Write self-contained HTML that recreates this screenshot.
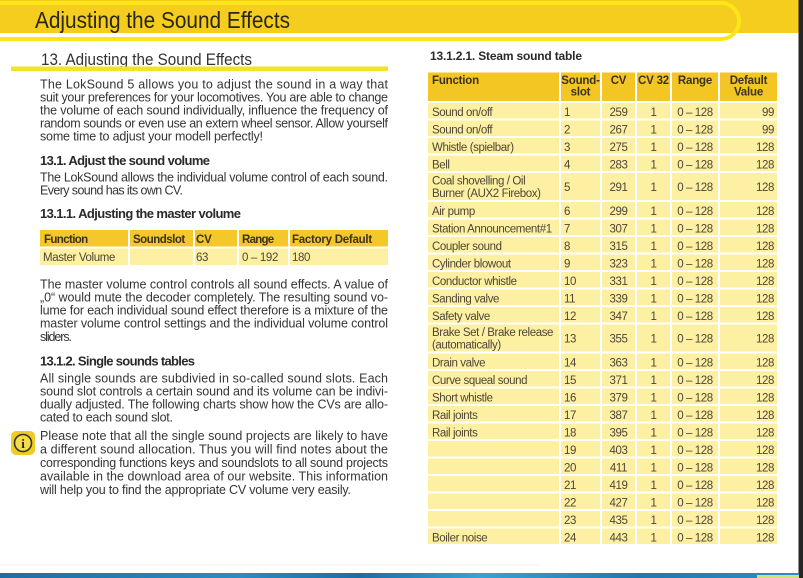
<!DOCTYPE html>
<html><head><meta charset="utf-8">
<style>
html,body{margin:0;padding:0;background:#fff;width:803px;height:578px;overflow:hidden}
svg{display:block}
.t{font-family:"Liberation Sans",sans-serif;font-size:12.5px;fill:#353535}
.h{font-family:"Liberation Sans",sans-serif;font-size:13px;font-weight:bold;fill:#2a2a2a}
.th{font-family:"Liberation Sans",sans-serif;font-size:11.5px;font-weight:bold;fill:#3a3222;letter-spacing:-0.2px}
.td{font-family:"Liberation Sans",sans-serif;font-size:11.5px;fill:#4e4636;letter-spacing:-0.4px}
.c{text-anchor:middle}
.e{text-anchor:end}
</style></head><body>
<svg width="803" height="578" viewBox="0 0 803 578" xmlns="http://www.w3.org/2000/svg">
<defs>
<linearGradient id="bl" x1="0" x2="1" y1="0" y2="0">
<stop offset="0" stop-color="#1d6ea6"/><stop offset="0.3" stop-color="#2a8cc4"/><stop offset="0.45" stop-color="#1a6ea8"/><stop offset="0.6" stop-color="#35a3d6"/><stop offset="0.8" stop-color="#1f78b2"/><stop offset="1" stop-color="#2a8fc6"/>
</linearGradient>
</defs>
<!-- top band -->
<rect x="0" y="0" width="799" height="33" fill="#f4cd1f"/>
<rect x="-30" y="3" width="769" height="36" rx="18" ry="18" fill="none" stroke="#fde617" stroke-width="4"/>
<text x="35" y="28" font-family="Liberation Sans, sans-serif" font-size="23" fill="#2a2614" textLength="255" lengthAdjust="spacingAndGlyphs">Adjusting the Sound Effects</text>
<!-- right dark strip -->
<rect x="798.5" y="0" width="4.5" height="578" fill="#262626"/>
<!-- section heading -->
<text x="41" y="65" font-family="Liberation Sans, sans-serif" font-size="17" fill="#333" textLength="211" lengthAdjust="spacingAndGlyphs">13. Adjusting the Sound Effects</text>
<rect x="11" y="66.5" width="377" height="4.5" fill="#f4e31f"/>

<!-- paragraph 1 -->
<text class="t" x="40" y="88.5" textLength="348">The LokSound 5 allows you to adjust the sound in a way that</text>
<text class="t" x="40" y="101.5" textLength="348">suit your preferences for your locomotives. You are able to change</text>
<text class="t" x="40" y="114.5" textLength="348">the volume of each sound individually, influence the frequency of</text>
<text class="t" x="40" y="127.5" textLength="348">random sounds or even use an extern wheel sensor. Allow yourself</text>
<text class="t" x="40" y="140.5" textLength="223">some time to adjust your modell perfectly!</text>

<text class="h" x="40" y="165" textLength="170">13.1. Adjust the sound volume</text>
<text class="t" x="40" y="181.5" textLength="348">The LokSound allows the individual volume control of each sound.</text>
<text class="t" x="40" y="194.5" textLength="143">Every sound has its own CV.</text>

<text class="h" x="40" y="218" textLength="201">13.1.1. Adjusting the master volume</text>

<!-- master table -->
<rect x="40" y="230" width="88" height="16.5" fill="#f4c72a"/>
<rect x="130" y="230" width="63" height="16.5" fill="#f4c72a"/>
<rect x="195" y="230" width="42" height="16.5" fill="#f4c72a"/>
<rect x="239" y="230" width="49" height="16.5" fill="#f4c72a"/>
<rect x="290" y="230" width="98" height="16.5" fill="#f4c72a"/>
<rect x="40" y="248.5" width="88" height="16.5" fill="#fdf0a3"/>
<rect x="130" y="248.5" width="63" height="16.5" fill="#fdf0a3"/>
<rect x="195" y="248.5" width="42" height="16.5" fill="#fdf0a3"/>
<rect x="239" y="248.5" width="49" height="16.5" fill="#fdf0a3"/>
<rect x="290" y="248.5" width="98" height="16.5" fill="#fdf0a3"/>
<text class="th" x="44" y="243" textLength="44">Function</text>
<text class="th" x="133" y="243" textLength="52">Soundslot</text>
<text class="th" x="196" y="243">CV</text>
<text class="th" x="242" y="243" textLength="32">Range</text>
<text class="th" x="292" y="243" textLength="80">Factory Default</text>
<text class="td" x="43" y="261" textLength="72">Master Volume</text>
<text class="td" x="196" y="261">63</text>
<text class="td" x="242" y="261" textLength="36">0 – 192</text>
<text class="td" x="292" y="261">180</text>

<!-- paragraph 3 -->
<text class="t" x="40" y="288.5" textLength="348">The master volume control controls all sound effects. A value of</text>
<text class="t" x="40" y="301.5" textLength="348">„0“ would mute the decoder completely. The resulting sound vo-</text>
<text class="t" x="40" y="314.5" textLength="348">lume for each individual sound effect therefore is a mixture of the</text>
<text class="t" x="40" y="327.5" textLength="348">master volume control settings and the individual volume control</text>
<text class="t" x="40" y="341" textLength="32">sliders.</text>

<text class="h" x="40" y="365.5" textLength="155">13.1.2. Single sounds tables</text>
<text class="t" x="40" y="382.5" textLength="348">All single sounds are subdivied in so-called sound slots. Each</text>
<text class="t" x="40" y="395.5" textLength="348">sound slot controls a certain sound and its volume can be indivi-</text>
<text class="t" x="40" y="408.5" textLength="348">dually adjusted. The following charts show how the CVs are allo-</text>
<text class="t" x="40" y="421.5" textLength="133">cated to each sound slot.</text>

<!-- info icon -->
<rect x="11" y="431" width="24" height="24" rx="5" ry="5" fill="#f0cc22"/>
<circle cx="23" cy="443" r="8.5" fill="#f7dc4a" stroke="#333" stroke-width="1.6"/>
<text x="23" y="448" font-family="Liberation Serif, serif" font-size="13" font-weight="bold" fill="#222" text-anchor="middle">i</text>

<text class="t" x="40" y="440" textLength="348">Please note that all the single sound projects are likely to have</text>
<text class="t" x="40" y="453.5" textLength="348">a different sound allocation. Thus you will find notes about the</text>
<text class="t" x="40" y="467" textLength="348">corresponding functions keys and soundslots to all sound projects</text>
<text class="t" x="40" y="480.5" textLength="348">available in the download area of our website. This information</text>
<text class="t" x="40" y="494" textLength="311">will help you to find the appropriate CV volume very easily.</text>

<!-- right table -->
<text class="h" x="430" y="60" style="font-size:12px" textLength="152">13.1.2.1. Steam sound table</text>
<g fill="#f3c623">
<rect x="428" y="72.5" width="131" height="28.5"/>
<rect x="561" y="72.5" width="39" height="28.5"/>
<rect x="602" y="72.5" width="33" height="28.5"/>
<rect x="637" y="72.5" width="33" height="28.5"/>
<rect x="672" y="72.5" width="46" height="28.5"/>
<rect x="720" y="72.5" width="57" height="28.5"/>
</g>
<g fill="#fdf0a3">
<rect x="428" y="103" width="131" height="441"/>
<rect x="561" y="103" width="39" height="441"/>
<rect x="602" y="103" width="33" height="441"/>
<rect x="637" y="103" width="33" height="441"/>
<rect x="672" y="103" width="46" height="441"/>
<rect x="720" y="103" width="57" height="441"/>
</g>
<g fill="#ffffff">
<rect x="428" y="118.5" width="349" height="2"/>
<rect x="428" y="136" width="349" height="2"/>
<rect x="428" y="153.5" width="349" height="2"/>
<rect x="428" y="171" width="349" height="2"/>
<rect x="428" y="200" width="349" height="2"/>
<rect x="428" y="217.5" width="349" height="2"/>
<rect x="428" y="235" width="349" height="2"/>
<rect x="428" y="252.5" width="349" height="2"/>
<rect x="428" y="270" width="349" height="2"/>
<rect x="428" y="287.5" width="349" height="2"/>
<rect x="428" y="305" width="349" height="2"/>
<rect x="428" y="322.5" width="349" height="2"/>
<rect x="428" y="351.5" width="349" height="2"/>
<rect x="428" y="369" width="349" height="2"/>
<rect x="428" y="386.5" width="349" height="2"/>
<rect x="428" y="404" width="349" height="2"/>
<rect x="428" y="421.5" width="349" height="2"/>
<rect x="428" y="439" width="349" height="2"/>
<rect x="428" y="456.5" width="349" height="2"/>
<rect x="428" y="474" width="349" height="2"/>
<rect x="428" y="491.5" width="349" height="2"/>
<rect x="428" y="509" width="349" height="2"/>
<rect x="428" y="526.5" width="349" height="2"/>
</g>
<text class="th" x="432" y="84">Function</text>
<text class="th c" x="580.5" y="84">Sound-</text>
<text class="th c" x="580.5" y="95.5">slot</text>
<text class="th c" x="618.5" y="84">CV</text>
<text class="th c" x="653.5" y="84">CV 32</text>
<text class="th c" x="695" y="84">Range</text>
<text class="th c" x="748.5" y="84">Default</text>
<text class="th c" x="748.5" y="95.5">Value</text>

<g>
<text class="td" x="432" y="116">Sound on/off</text><text class="td" x="564" y="116">1</text><text class="td c" x="618.5" y="116">259</text><text class="td c" x="653.5" y="116">1</text><text class="td c" x="695" y="116">0 – 128</text><text class="td e" x="774" y="116">99</text>
<text class="td" x="432" y="133.5">Sound on/off</text><text class="td" x="564" y="133.5">2</text><text class="td c" x="618.5" y="133.5">267</text><text class="td c" x="653.5" y="133.5">1</text><text class="td c" x="695" y="133.5">0 – 128</text><text class="td e" x="774" y="133.5">99</text>
<text class="td" x="432" y="151">Whistle (spielbar)</text><text class="td" x="564" y="151">3</text><text class="td c" x="618.5" y="151">275</text><text class="td c" x="653.5" y="151">1</text><text class="td c" x="695" y="151">0 – 128</text><text class="td e" x="774" y="151">128</text>
<text class="td" x="432" y="168.5">Bell</text><text class="td" x="564" y="168.5">4</text><text class="td c" x="618.5" y="168.5">283</text><text class="td c" x="653.5" y="168.5">1</text><text class="td c" x="695" y="168.5">0 – 128</text><text class="td e" x="774" y="168.5">128</text>
<text class="td" x="432" y="184.5">Coal shovelling / Oil</text><text class="td" x="432" y="197">Burner (AUX2 Firebox)</text><text class="td" x="564" y="191">5</text><text class="td c" x="618.5" y="191">291</text><text class="td c" x="653.5" y="191">1</text><text class="td c" x="695" y="191">0 – 128</text><text class="td e" x="774" y="191">128</text>
<text class="td" x="432" y="215">Air pump</text><text class="td" x="564" y="215">6</text><text class="td c" x="618.5" y="215">299</text><text class="td c" x="653.5" y="215">1</text><text class="td c" x="695" y="215">0 – 128</text><text class="td e" x="774" y="215">128</text>
<text class="td" x="432" y="232.5">Station Announcement#1</text><text class="td" x="564" y="232.5">7</text><text class="td c" x="618.5" y="232.5">307</text><text class="td c" x="653.5" y="232.5">1</text><text class="td c" x="695" y="232.5">0 – 128</text><text class="td e" x="774" y="232.5">128</text>
<text class="td" x="432" y="250">Coupler sound</text><text class="td" x="564" y="250">8</text><text class="td c" x="618.5" y="250">315</text><text class="td c" x="653.5" y="250">1</text><text class="td c" x="695" y="250">0 – 128</text><text class="td e" x="774" y="250">128</text>
<text class="td" x="432" y="267.5">Cylinder blowout</text><text class="td" x="564" y="267.5">9</text><text class="td c" x="618.5" y="267.5">323</text><text class="td c" x="653.5" y="267.5">1</text><text class="td c" x="695" y="267.5">0 – 128</text><text class="td e" x="774" y="267.5">128</text>
<text class="td" x="432" y="285">Conductor whistle</text><text class="td" x="564" y="285">10</text><text class="td c" x="618.5" y="285">331</text><text class="td c" x="653.5" y="285">1</text><text class="td c" x="695" y="285">0 – 128</text><text class="td e" x="774" y="285">128</text>
<text class="td" x="432" y="302.5">Sanding valve</text><text class="td" x="564" y="302.5">11</text><text class="td c" x="618.5" y="302.5">339</text><text class="td c" x="653.5" y="302.5">1</text><text class="td c" x="695" y="302.5">0 – 128</text><text class="td e" x="774" y="302.5">128</text>
<text class="td" x="432" y="320">Safety valve</text><text class="td" x="564" y="320">12</text><text class="td c" x="618.5" y="320">347</text><text class="td c" x="653.5" y="320">1</text><text class="td c" x="695" y="320">0 – 128</text><text class="td e" x="774" y="320">128</text>
<text class="td" x="432" y="336">Brake Set / Brake release</text><text class="td" x="432" y="348.5">(automatically)</text><text class="td" x="564" y="342.5">13</text><text class="td c" x="618.5" y="342.5">355</text><text class="td c" x="653.5" y="342.5">1</text><text class="td c" x="695" y="342.5">0 – 128</text><text class="td e" x="774" y="342.5">128</text>
<text class="td" x="432" y="366.5">Drain valve</text><text class="td" x="564" y="366.5">14</text><text class="td c" x="618.5" y="366.5">363</text><text class="td c" x="653.5" y="366.5">1</text><text class="td c" x="695" y="366.5">0 – 128</text><text class="td e" x="774" y="366.5">128</text>
<text class="td" x="432" y="384">Curve squeal sound</text><text class="td" x="564" y="384">15</text><text class="td c" x="618.5" y="384">371</text><text class="td c" x="653.5" y="384">1</text><text class="td c" x="695" y="384">0 – 128</text><text class="td e" x="774" y="384">128</text>
<text class="td" x="432" y="401.5">Short whistle</text><text class="td" x="564" y="401.5">16</text><text class="td c" x="618.5" y="401.5">379</text><text class="td c" x="653.5" y="401.5">1</text><text class="td c" x="695" y="401.5">0 – 128</text><text class="td e" x="774" y="401.5">128</text>
<text class="td" x="432" y="419">Rail joints</text><text class="td" x="564" y="419">17</text><text class="td c" x="618.5" y="419">387</text><text class="td c" x="653.5" y="419">1</text><text class="td c" x="695" y="419">0 – 128</text><text class="td e" x="774" y="419">128</text>
<text class="td" x="432" y="436.5">Rail joints</text><text class="td" x="564" y="436.5">18</text><text class="td c" x="618.5" y="436.5">395</text><text class="td c" x="653.5" y="436.5">1</text><text class="td c" x="695" y="436.5">0 – 128</text><text class="td e" x="774" y="436.5">128</text>
<text class="td" x="564" y="454">19</text><text class="td c" x="618.5" y="454">403</text><text class="td c" x="653.5" y="454">1</text><text class="td c" x="695" y="454">0 – 128</text><text class="td e" x="774" y="454">128</text>
<text class="td" x="564" y="471.5">20</text><text class="td c" x="618.5" y="471.5">411</text><text class="td c" x="653.5" y="471.5">1</text><text class="td c" x="695" y="471.5">0 – 128</text><text class="td e" x="774" y="471.5">128</text>
<text class="td" x="564" y="489">21</text><text class="td c" x="618.5" y="489">419</text><text class="td c" x="653.5" y="489">1</text><text class="td c" x="695" y="489">0 – 128</text><text class="td e" x="774" y="489">128</text>
<text class="td" x="564" y="506.5">22</text><text class="td c" x="618.5" y="506.5">427</text><text class="td c" x="653.5" y="506.5">1</text><text class="td c" x="695" y="506.5">0 – 128</text><text class="td e" x="774" y="506.5">128</text>
<text class="td" x="564" y="524">23</text><text class="td c" x="618.5" y="524">435</text><text class="td c" x="653.5" y="524">1</text><text class="td c" x="695" y="524">0 – 128</text><text class="td e" x="774" y="524">128</text>
<text class="td" x="432" y="541.5">Boiler noise</text><text class="td" x="564" y="541.5">24</text><text class="td c" x="618.5" y="541.5">443</text><text class="td c" x="653.5" y="541.5">1</text><text class="td c" x="695" y="541.5">0 – 128</text><text class="td e" x="774" y="541.5">128</text>
</g>

<!-- bottom strip -->
<rect x="0" y="564.5" width="540" height="1" fill="#f3f3f3"/>
<rect x="0" y="573" width="799" height="5" fill="url(#bl)"/>
<rect x="757" y="575" width="42" height="3" fill="#cfe07a"/>
</svg>
</body></html>
